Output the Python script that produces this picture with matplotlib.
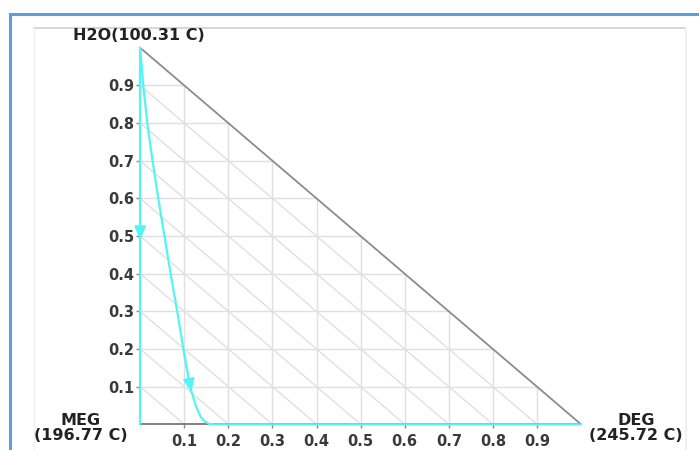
import numpy as np
import matplotlib.pyplot as plt
from matplotlib.lines import Line2D

# residue curve, x = DEG fraction, y = H2O fraction
curva_x = [0.0, 0.007, 0.016, 0.028, 0.041, 0.055, 0.069, 0.084, 0.098, 0.113,
           0.126, 0.137, 0.146, 0.156, 0.17, 1.0]
curva_y = [1.0, 0.9, 0.8, 0.7, 0.6, 0.5, 0.4, 0.3, 0.2, 0.1,
           0.05, 0.02, 0.008, 0.001, 0.0, 0.0]
# second curve along the MEG-H2O edge
borde_x = [0.0, 0.0]
borde_y = [1.0, 0.0]

ticks = [0.1, 0.2, 0.3, 0.4, 0.5, 0.6, 0.7, 0.8, 0.9]
tick_labels = ['0.1', '0.2', '0.3', '0.4', '0.5', '0.6', '0.7', '0.8', '0.9']
vertice_top = 'H2O(100.31 C)'
vertice_izq = 'MEG\n(196.77 C)'
vertice_der = 'DEG\n(245.72 C)'

cian = '#55f4f4'
gris_grid = '#e0e0e0'

fig = plt.figure(figsize=(6.99, 4.5), dpi=100)
W, H = 699.0, 450.0

# window frame
fig.add_artist(Line2D([10/W, 1], [1-14/H, 1-14/H], color='#5a9fe0', lw=2.2))
fig.add_artist(Line2D([10/W, 10/W], [0, 1-14/H], color='#5a9fe0', lw=2.2))
fig.add_artist(Line2D([34/W, 685/W], [1-28/H, 1-28/H], color='#cfcfcf', lw=1.2))
fig.add_artist(Line2D([34/W, 34/W], [0, 1-28/H], color='#f0f0f0', lw=1))
fig.add_artist(Line2D([686/W, 686/W], [0, 1-28/H], color='#f0f0f0', lw=1.5))

x0, x1 = 140.2, 581.0
y0, y1 = 424.3, 47.8
ax = fig.add_axes([x0/W, 1-y0/H, (x1-x0)/W, (y0-y1)/H])
ax.set_xlim(0, 1)
ax.set_ylim(0, 1)
for s in ax.spines.values():
    s.set_visible(False)
ax.patch.set_alpha(0)

# grid: verticals, horizontals and diagonals x+y=c
for c in ticks:
    ax.plot([c, c], [0, 1-c], color=gris_grid, lw=1, zorder=1)
    ax.plot([0, 1-c], [c, c], color=gris_grid, lw=1, zorder=1)
    ax.plot([0, c], [c, 0], color=gris_grid, lw=1, zorder=1)

# triangle edges
ax.plot([0, 1], [1, 0], color='#8c8c8c', lw=1.3, zorder=2)
ax.plot([0, 1], [0, 0], color='#777777', lw=1.3, zorder=2, clip_on=False)

ax.plot(borde_x, borde_y, color=cian, lw=1.6, zorder=3, clip_on=False)
ax.plot(curva_x, curva_y, color=cian, lw=1.6, zorder=3, clip_on=False)

# direction arrows
flecha = dict(arrowstyle='-|>,head_length=0.7,head_width=0.3', color=cian, lw=1.2,
              mutation_scale=12, shrinkA=0, shrinkB=0)
i = 9
ax.annotate('', xy=(curva_x[i] + 0.003, curva_y[i] - 0.015), xytext=(curva_x[i-1], curva_y[i-1]),
            arrowprops=flecha, zorder=4)
ax.annotate('', xy=(borde_x[0], 0.49), xytext=(borde_x[0], 0.6),
            arrowprops=flecha, zorder=4, annotation_clip=False)

ax.set_xticks(ticks)
ax.set_xticklabels(tick_labels)
ax.set_yticks(ticks)
ax.set_yticklabels(tick_labels)
ax.tick_params(direction='out', length=3, width=1, color='#888888', labelcolor='#3a3a3a',
               labelsize=10.5)
ax.tick_params(axis='y', pad=1)
ax.tick_params(axis='x', pad=4)
for t in ax.get_xticklabels() + ax.get_yticklabels():
    t.set_fontweight('bold')

fig.text(139/W, 1-36/H, vertice_top, ha='center', va='center', fontsize=11.5,
         fontweight='bold', color='#222222')
fig.text(81/W, 1-428/H, vertice_izq, ha='center', va='center', fontsize=11.5,
         fontweight='bold', color='#222222', linespacing=1.0)
fig.text(636/W, 1-428/H, vertice_der, ha='center', va='center', fontsize=11.5,
         fontweight='bold', color='#222222', linespacing=1.0)

fig.savefig('out.png', dpi=100)
